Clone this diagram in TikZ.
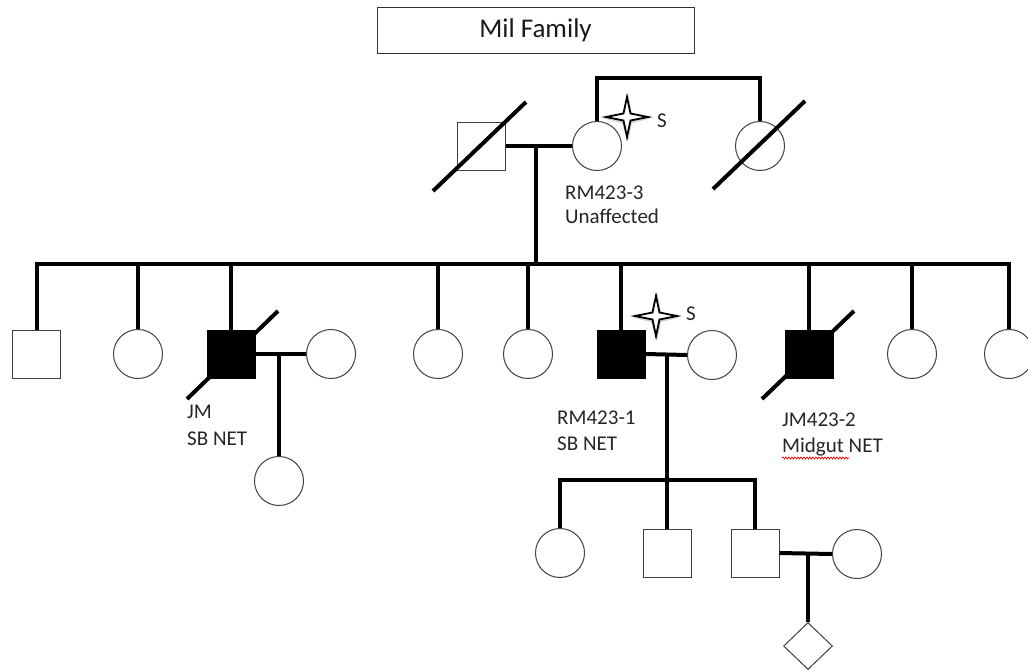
\documentclass[tikz,border=0pt]{standalone}
\usepackage{fontspec}
\setmainfont{Carlito}
\usetikzlibrary{shapes.geometric,decorations.pathmorphing,calc}
\newcommand{\sparkstar}[1]{%
  \fill[black!30,opacity=0.6] ($#1+(-25,1)$) -- ($#1+(-5,-3)$) -- ($#1+(1,-24)$) -- ($#1+(5,-3)$) -- ($#1+(25,1)$) -- ($#1+(5,6)$) -- ($#1+(1,25)$) -- ($#1+(-5,6)$) -- cycle;
  \filldraw[fill=white,draw=black,line width=1.8pt,line join=miter] ($#1+(-21,0)$) -- ($#1+(-3.5,-3.5)$) -- ($#1+(0,-20)$) -- ($#1+(3.5,-3.5)$) -- ($#1+(21,0)$) -- ($#1+(3.5,3.5)$) -- ($#1+(0,20)$) -- ($#1+(-3.5,3.5)$) -- cycle;}
\begin{document}
\begin{tikzpicture}[x=1pt,y=-1pt,
  conn/.style={line width=4pt},
  slashline/.style={line width=4pt},
  sq/.style={rectangle,draw=black!75,line width=1pt,minimum size=48pt,inner sep=0pt,fill=white},
  aff/.style={sq,fill=black,draw=black},
  ci/.style={circle,draw=black!75,line width=1pt,minimum size=49pt,inner sep=0pt,fill=white},
  dia/.style={diamond,draw=black!75,line width=1pt,minimum width=49pt,minimum height=47pt,inner sep=0pt,fill=white},
  lab/.style={font=\fontsize{21}{25}\selectfont,anchor=base west,inner sep=0pt,text=black!85}]
\useasboundingbox (0,0) rectangle (1028,670);
% title
\node[draw=black!80,line width=1pt,minimum width=317pt,minimum height=46pt,inner sep=0pt,font=\fontsize{27}{32}\selectfont,text=black!90] (title) at (535.5,30) {Mil Family};
% generation I
\node[sq] (gf) at (481,146) {};
\draw[slashline] (433,191) -- (526,102);
\node[ci] (gm) at (597,146) {};
\node[ci] (gs) at (760,146) {};
\draw[slashline] (713,189) -- (805,101);
\coordinate (gt1) at (597,78);
\coordinate (gt2) at (760,78);
\draw[conn] (gm.north) -- (gt1) -- (gt2) -- (gs.north);
\draw[conn] (gf.east) -- (gm.west);
\coordinate (d1) at (536,146);
\coordinate (s1) at (536,264);
\draw[conn] (d1) -- (s1);
\sparkstar{(627,117)}
\node[lab] (sa) at (657,127) {S};
\node[lab] (l1a) at (565,199) {RM423-3};
\node[lab] (l1b) at (565,223) {Unaffected};
% generation II
\draw[slashline] (187,399) -- (278,311);
\draw[slashline] (762,399) -- (854,311);
\node[sq] (c1) at (36.5,354) {};
\node[ci] (c2) at (138,354) {};
\node[aff] (c3) at (231,354) {};
\node[ci] (w3) at (331,354) {};
\node[ci] (g3) at (279,481) {};
\node[ci] (c4) at (438,354) {};
\node[ci] (c5) at (528,354) {};
\node[aff] (c6) at (621,354) {};
\node[ci] (w6) at (712,355) {};
\node[aff] (c7) at (809,354) {};
\node[ci] (c8) at (912,354) {};
\node[ci] (c9) at (1009,354) {};
\draw[conn] (c1.north) |- (c9.north |- s1) -- (c9.north);
\foreach \c in {c2,c3,c4,c5,c6,c7,c8} \draw[conn] (\c.north) -- (\c.north |- s1);
\draw[conn] (c3.east) -- (w3.west);
\coordinate (m3) at (279,354);
\draw[conn] (m3) -- (g3.north);
\draw[conn] (c6.east) -- (w6.west);
\coordinate (m6) at (667,355);
\coordinate (s6) at (667,480);
\sparkstar{(656,316)}
\node[lab] (sb) at (686,320) {S};
\node[lab] (l3a) at (187,418) {JM};
\node[lab] (l3b) at (187,445) {SB NET};
\node[lab] (l6a) at (557,424) {RM423-1};
\node[lab] (l6b) at (557,450) {SB NET};
\node[lab] (l7a) at (782,426) {JM423-2};
\node[lab] (l7b) at (782,452) {Midgut NET};
\draw[red,line width=0.7pt,decorate,decoration={snake,amplitude=1pt,segment length=3pt}] (782,458) -- (849,458);
% generation III
\node[ci] (h1) at (560,553) {};
\node[sq] (h2) at (667,553) {};
\node[sq] (h3) at (755,553) {};
\node[ci] (hw) at (857,554) {};
\node[dia] (h4) at (808,646) {};
\draw[conn] (m6) -- (h2.north);
\draw[conn] (h1.north) |- (h3.north |- s6) -- (h3.north);
\draw[conn] (h3.east) -- (hw.west);
\coordinate (m8) at (808,554);
\draw[conn] (m8) -- (h4.north);
\end{tikzpicture}
\end{document}
